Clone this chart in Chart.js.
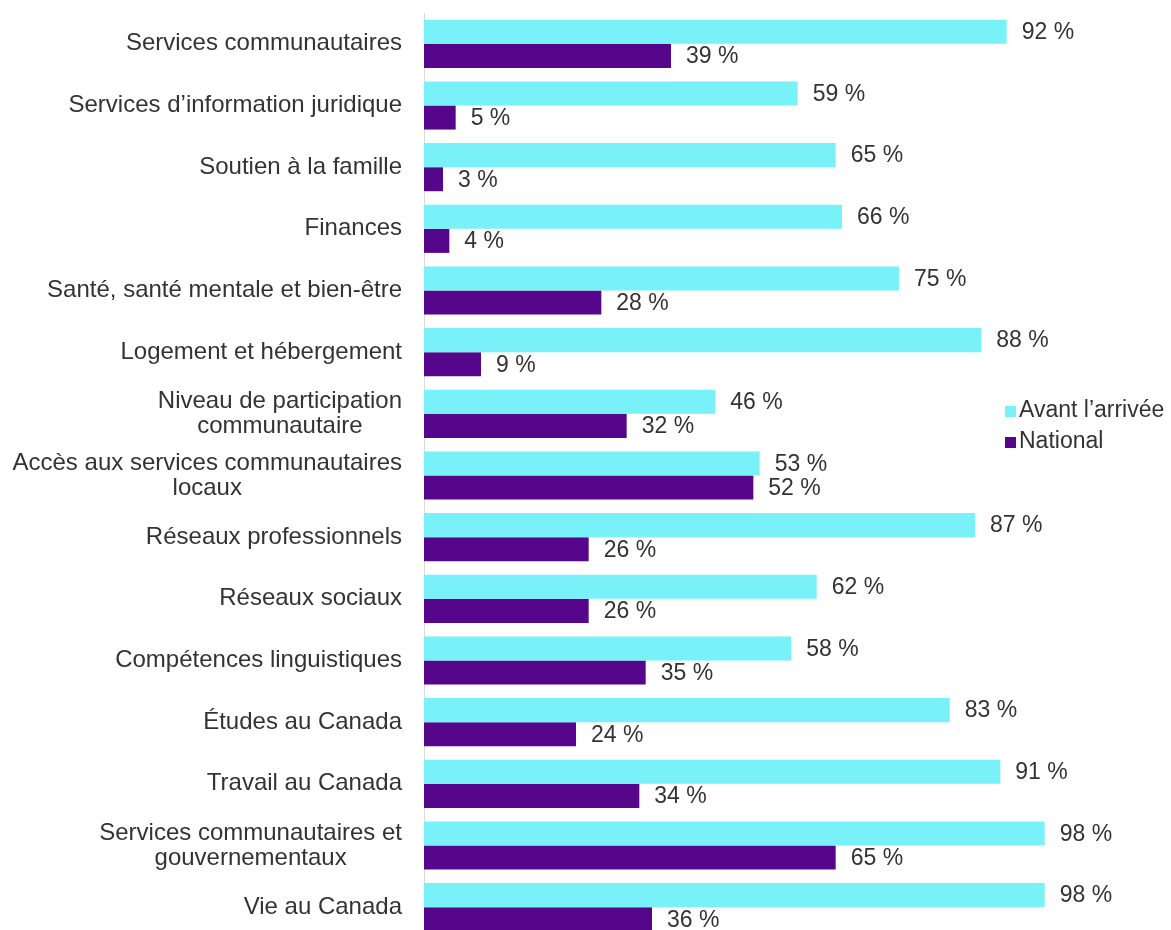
<!DOCTYPE html>
<html>
<head>
<meta charset="utf-8">
<script src="https://cdn.jsdelivr.net/npm/chart.js@4"></script>
<style>
    html, body { margin: 0; padding: 0; background: #fff; overflow: hidden; }
    #cadre { position: relative; width: 1171px; height: 946px; }
</style>
</head>
<body>
<div id="cadre"><canvas id="barChart"></canvas></div>
<script>
// Donnees du graphique
var categories = [
    ['Services communautaires'],
    ['Services d’information juridique'],
    ['Soutien à la famille'],
    ['Finances'],
    ['Santé, santé mentale et bien-être'],
    ['Logement et hébergement'],
    ['Niveau de participation', 'communautaire'],
    ['Accès aux services communautaires', 'locaux'],
    ['Réseaux professionnels'],
    ['Réseaux sociaux'],
    ['Compétences linguistiques'],
    ['Études au Canada'],
    ['Travail au Canada'],
    ['Services communautaires et', 'gouvernementaux'],
    ['Vie au Canada']
];
var avantArrivee = [92, 59, 65, 66, 75, 88, 46, 53, 87, 62, 58, 83, 91, 98, 98];
var national = [39, 5, 3, 4, 28, 9, 32, 52, 26, 26, 35, 24, 34, 65, 36];
var series = ['Avant l’arrivée', 'National'];

var policeCategories = '24px "Liberation Sans", Arial, sans-serif';
var policeValeurs = '23px "Liberation Sans", Arial, sans-serif';
var couleurTexte = '#333333';

// Etiquettes des categories (lignes centrees, bloc aligne a droite)
var etiquettesCategories = {
    id: 'etiquettesCategories',
    afterDraw: function (chart) {
        var ctx = chart.ctx;
        var echelle = chart.scales.y;
        ctx.save();
        ctx.font = policeCategories;
        ctx.fillStyle = couleurTexte;
        ctx.textBaseline = 'middle';
        ctx.textAlign = 'center';
        for (var i = 0; i < categories.length; i++) {
            var lignes = categories[i];
            var largeur = 0;
            for (var j = 0; j < lignes.length; j++) {
                largeur = Math.max(largeur, ctx.measureText(lignes[j]).width);
            }
            var centreX = 402 - largeur / 2;
            var y = echelle.getPixelForValue(i);
            var debut = y - (lignes.length - 1) * 25 / 2;
            for (var j = 0; j < lignes.length; j++) {
                ctx.fillText(lignes[j], centreX, debut + j * 25);
            }
        }
        ctx.restore();
    }
};

// Valeurs a droite des barres
var etiquettesValeurs = {
    id: 'etiquettesValeurs',
    afterDatasetsDraw: function (chart) {
        var ctx = chart.ctx;
        ctx.save();
        ctx.font = policeValeurs;
        ctx.fillStyle = couleurTexte;
        ctx.textBaseline = 'middle';
        ctx.textAlign = 'left';
        chart.data.datasets.forEach(function (ds, d) {
            var meta = chart.getDatasetMeta(d);
            meta.data.forEach(function (barre, i) {
                ctx.fillText(ds.data[i] + ' %', barre.x + 15, barre.y + 1);
            });
        });
        ctx.restore();
    }
};

// Legende a droite
var legende = {
    id: 'legende',
    afterDraw: function (chart) {
        var ctx = chart.ctx;
        ctx.save();
        ctx.font = policeValeurs;
        ctx.textBaseline = 'middle';
        chart.data.datasets.forEach(function (ds, d) {
            var y = 411 + d * 31;
            ctx.fillStyle = ds.backgroundColor;
            ctx.fillRect(1005, y - 5, 11, 11);
            ctx.fillStyle = couleurTexte;
            ctx.fillText(ds.label, 1019, y);
        });
        ctx.restore();
    }
};

var barChartCanvas = document.getElementById('barChart').getContext('2d');
new Chart(barChartCanvas, {
    type: 'bar',
    data: {
        labels: categories,
        datasets: [
            {
                label: series[0],
                data: avantArrivee,
                backgroundColor: '#78f2f8',
                borderWidth: 0
            },
            {
                label: series[1],
                data: national,
                backgroundColor: '#55068a',
                borderWidth: 0
            }
        ]
    },
    options: {
        indexAxis: 'y',
        responsive: true,
        maintainAspectRatio: false,
        animation: false,
        layout: {
            padding: { left: 0, right: 82, top: 13, bottom: 8 }
        },
        scales: {
            x: {
                display: false,
                min: 0,
                max: 105
            },
            y: {
                afterFit: function (scale) { scale.width = 424; },
                ticks: { display: false },
                grid: { display: false },
                border: { display: true, color: '#d9d9d9', width: 1 }
            }
        },
        datasets: {
            bar: { categoryPercentage: 0.78, barPercentage: 1 }
        },
        plugins: {
            legend: { display: false },
            tooltip: { enabled: false }
        }
    },
    plugins: [etiquettesCategories, etiquettesValeurs, legende]
});
</script>
</body>
</html>
